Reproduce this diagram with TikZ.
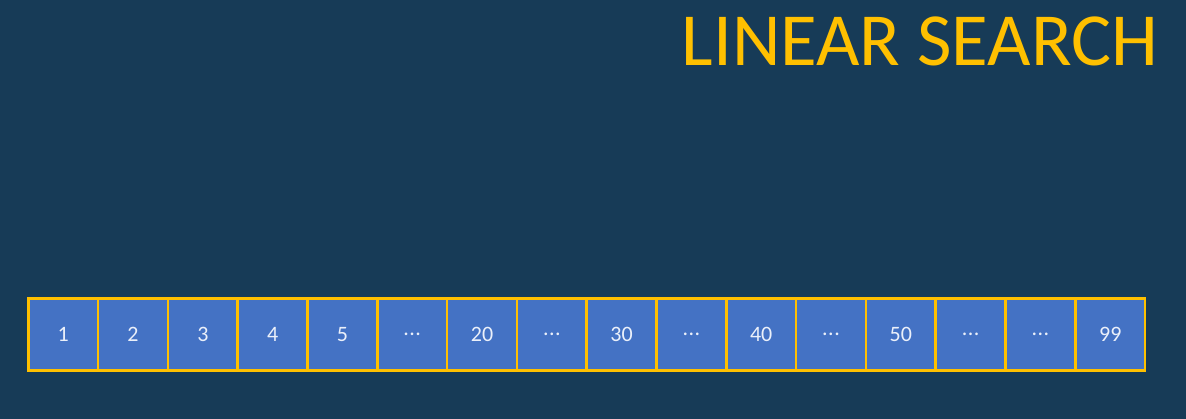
\documentclass[tikz,border=0pt]{standalone}
\usepackage{fontspec}
\setmainfont{Carlito}
\definecolor{bgc}{RGB}{23,59,87}
\definecolor{cellc}{RGB}{68,114,196}
\definecolor{goldc}{RGB}{255,192,0}
\definecolor{txtc}{RGB}{235,240,250}
\newcommand{\dotsval}{.\kern0.5pt.\kern0.5pt.}
\begin{document}
\begin{tikzpicture}[x=1pt,y=-1pt,
  cellbox/.style={draw=goldc,line width=2.6pt,fill=cellc,minimum width=69.875pt,minimum height=72pt,inner sep=0pt,text=txtc,font=\fontsize{22}{26}\selectfont,anchor=north west},
  titlestyle/.style={text=goldc,font=\fontsize{75}{82}\selectfont,inner sep=0pt,anchor=base east}]
\fill[bgc] (0,0) rectangle (1186,419);
\useasboundingbox (0,0) rectangle (1186,419);
\node[titlestyle] (title) at (1158,66) {LINEAR SEARCH};
\foreach \v [count=\i from 0] in {1,2,3,4,5,\dotsval,20,\dotsval,30,\dotsval,40,\dotsval,50,\dotsval,\dotsval,99}{
  \node[cellbox] (c\i) at ({27+69.8*\i},297) {\v};
}
\end{tikzpicture}
\end{document}
